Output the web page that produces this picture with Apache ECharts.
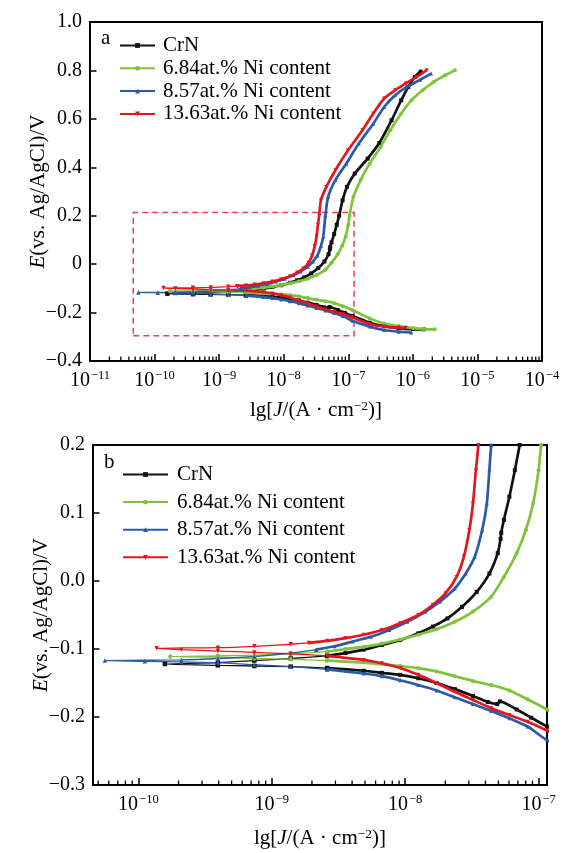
<!DOCTYPE html>
<html>
<head>
<meta charset="utf-8">
<script src="https://cdn.jsdelivr.net/npm/echarts@6/dist/echarts.min.js"></script>
<style>html,body{margin:0;padding:0;background:#fff;}#c{width:570px;height:853px;}</style>
</head>
<body>
<div id="c"></div>
<script>
// ---- Data (lg J in log10(A/cm^2), E in V vs Ag/AgCl) ----
const seriesNames = ['CrN', '6.84at.% Ni content', '8.57at.% Ni content', '13.63at.% Ni content'];

const crnLg = [-5.83,-5.997,-6.221,-6.445,-6.669,-6.937,-7.055,-7.164,-7.29,-7.31,-7.38,-7.492,-7.628,-7.765,-7.902,-8.038,-8.175,-8.311,-8.585,-8.858,-9.131,-9.404,-9.801,
  -9.404,-9.131,-8.858,-8.585,-8.448,-8.311,-8.175,-8.038,-7.902,-7.792,-7.683,-7.574,-7.464,-7.369,-7.306,-7.285,-7.280,-7.260,-7.219,-7.178,-7.142,
  -7.088,-7.02,-6.90,-6.70,-6.52,-6.33,-6.18,-6.07,-5.97,-5.88];
const crnE = [-0.269,-0.268,-0.264,-0.256,-0.242,-0.214,-0.201,-0.189,-0.177,-0.181,-0.178,-0.169,-0.159,-0.150,-0.143,-0.138,-0.135,-0.132,-0.128,-0.126,-0.125,-0.124,-0.122,
  -0.120,-0.117,-0.114,-0.110,-0.106,-0.101,-0.094,-0.087,-0.077,-0.067,-0.055,-0.038,-0.016,0.011,0.041,0.062,0.071,0.090,0.124,0.163,0.200,
  0.264,0.319,0.374,0.436,0.500,0.594,0.677,0.732,0.773,0.795];

const ni684Lg = [-5.661,-5.829,-5.997,-6.221,-6.445,-6.669,-6.937,-7.082,-7.219,-7.355,-7.492,-7.628,-7.765,-7.902,-8.038,-8.311,-8.585,-8.858,-9.131,-9.404,-9.760,
  -9.404,-9.131,-8.858,-8.585,-8.448,-8.311,-8.175,-8.038,-7.902,-7.765,-7.628,-7.492,-7.355,-7.260,-7.164,-7.096,-7.041,-7.000,-6.981,
  -6.92,-6.81,-6.67,-6.50,-6.35,-6.18,-6.02,-5.85,-5.68,-5.50,-5.35];
const ni684E = [-0.269,-0.268,-0.264,-0.256,-0.245,-0.224,-0.189,-0.174,-0.161,-0.153,-0.147,-0.140,-0.133,-0.128,-0.125,-0.120,-0.117,-0.115,-0.114,-0.112,-0.111,
  -0.110,-0.109,-0.107,-0.104,-0.100,-0.097,-0.092,-0.086,-0.079,-0.071,-0.060,-0.045,-0.023,0.006,0.041,0.075,0.114,0.163,0.200,
  0.278,0.347,0.415,0.484,0.553,0.622,0.677,0.718,0.752,0.780,0.801];

const ni857Lg = [-6.025,-6.221,-6.445,-6.669,-6.937,-7.082,-7.219,-7.355,-7.492,-7.628,-7.765,-7.902,-8.038,-8.175,-8.311,-8.585,-8.858,-9.131,-9.404,-9.678,-9.951,-10.251,
  -9.678,-9.404,-9.131,-8.858,-8.667,-8.530,-8.393,-8.257,-8.120,-7.984,-7.847,-7.738,-7.628,-7.546,-7.478,-7.423,-7.388,-7.369,-7.355,
  -7.312,-7.200,-7.032,-6.837,-6.613,-6.445,-6.277,-6.109,-5.885,-5.717];
const ni857E = [-0.282,-0.279,-0.272,-0.258,-0.234,-0.214,-0.202,-0.191,-0.181,-0.171,-0.161,-0.153,-0.146,-0.140,-0.136,-0.130,-0.126,-0.123,-0.120,-0.119,-0.118,-0.117,
  -0.116,-0.114,-0.111,-0.106,-0.101,-0.096,-0.089,-0.082,-0.072,-0.060,-0.045,-0.030,-0.011,0.011,0.036,0.075,0.114,0.163,0.200,
  0.278,0.347,0.415,0.498,0.580,0.649,0.697,0.729,0.762,0.787];

const ni1363Lg = [-6.11,-6.221,-6.445,-6.669,-6.937,-7.082,-7.219,-7.355,-7.492,-7.628,-7.765,-7.902,-8.038,-8.175,-8.311,-8.585,-8.858,-9.131,-9.404,-9.678,-9.863,
  -9.404,-9.131,-8.858,-8.721,-8.585,-8.448,-8.311,-8.175,-8.038,-7.902,-7.792,-7.697,-7.615,-7.560,-7.519,-7.492,-7.470,-7.451,
  -7.424,-7.340,-7.200,-7.004,-6.781,-6.613,-6.445,-6.277,-6.109,-5.941,-5.785];
const ni1363E = [-0.263,-0.262,-0.258,-0.247,-0.220,-0.207,-0.197,-0.187,-0.175,-0.163,-0.150,-0.138,-0.128,-0.121,-0.116,-0.110,-0.107,-0.105,-0.103,-0.101,-0.099,
  -0.098,-0.096,-0.093,-0.091,-0.088,-0.084,-0.079,-0.072,-0.062,-0.050,-0.035,-0.018,0.006,0.036,0.075,0.114,0.163,0.200,
  0.264,0.319,0.388,0.470,0.553,0.622,0.684,0.718,0.746,0.773,0.801];

// zoom box (region of panel b shown in panel a)
const boxLg = [-10.33, -6.91];
const boxE = [-0.296, 0.213];

// axes ranges
const topXLg = [-11, -4];
const topY = [-0.4, 1.0];
const botXLg = [-10.34, -6.937];
const botY = [-0.3, 0.2];

const colors = ['#111111', '#80c23a', '#2b5aa6', '#e3161f'];
const symbols = ['rect', 'circle', 'triangle', 'path://M0,0 L10,0 L5,9 Z'];
const thinBelowLg = -8.8; // low-current part drawn with a thin line

const FF = '"Liberation Serif","Times New Roman",serif';

function toData(lg, e) { return lg.map((l, i) => [Math.pow(10, l), e[i]]); }
const curveLg = [crnLg, ni684Lg, ni857Lg, ni1363Lg];
const curveE = [crnE, ni684E, ni857E, ni1363E];

function splitCurve(lg, e) {
  const d = toData(lg, e);
  let first = -1, last = -1;
  lg.forEach((l, i) => { if (l < thinBelowLg) { if (first < 0) first = i; last = i; } });
  const thin = d.slice(Math.max(0, first - 1), last + 2);
  const thick = d.slice(0, first).concat(['-'], d.slice(last + 1));
  return { thin, thick };
}

function minorTicks(minLg, maxLg, y) {
  const out = [];
  for (let k = Math.floor(minLg); k < Math.ceil(maxLg); k++) {
    for (let m = 2; m <= 9; m++) {
      const l = k + Math.log10(m);
      if (l > minLg && l < maxLg) out.push([Math.pow(10, l), y]);
    }
  }
  return out;
}

const richTick = {
  b: { fontSize: 20, fontFamily: FF, color: '#000', lineHeight: 22, verticalAlign: 'bottom' },
  s: { fontSize: 12.5, fontFamily: FF, color: '#000', lineHeight: 22, verticalAlign: 'top', padding: [0, 0, 0, 1] }
};
function expLabel(v) {
  const ex = Math.log10(v);
  const r = Math.round(ex);
  if (Math.abs(ex - r) > 1e-6) return '';
  return '{b|10}{s|' + (r < 0 ? '\u2212' + (-r) : r) + '}';
}
function yLabel(v, zeroShort) {
  if (Math.abs(v) < 1e-9) return zeroShort ? '0' : '0.0';
  return v.toFixed(1).replace('-', '\u2212');
}
const richName = {
  n: { fontSize: 21, fontFamily: FF, color: '#000' },
  i: { fontSize: 21, fontFamily: FF, fontStyle: 'italic', color: '#000' },
  s: { fontSize: 13.5, fontFamily: FF, color: '#000', verticalAlign: 'top', lineHeight: 23 }
};
const xName = '{n|lg[}{i|J}{n|/(A \u00b7 cm}{s|\u22122}{n|)]}';
const yName = '{i|E}{n|(vs. Ag/AgCl)/V}';

function xAxis(gi, lgRange, nameGap) {
  return {
    type: 'log', logBase: 10, gridIndex: gi,
    min: Math.pow(10, lgRange[0]), max: Math.pow(10, lgRange[1]),
    splitNumber: gi === 0 ? 7 : 4,
    axisLine: { onZero: false, lineStyle: { color: '#000', width: 2 } },
    axisTick: { inside: true, length: 7, lineStyle: { color: '#000', width: 1.5 } },
    splitLine: { show: false },
    axisLabel: { formatter: expLabel, rich: richTick, margin: 8, showMinLabel: true, showMaxLabel: true },
    name: xName, nameLocation: 'middle', nameGap: nameGap, nameMoveOverlap: false,
    nameTextStyle: { rich: richName }
  };
}
function yAxis(gi, range, interval, zeroShort) {
  return {
    type: 'value', gridIndex: gi, min: range[0], max: range[1], interval: interval,
    axisLine: { onZero: false, lineStyle: { color: '#000', width: 2 } },
    axisTick: { inside: true, length: 6.5, lineStyle: { color: '#000', width: 1.5 } },
    splitLine: { show: false },
    axisLabel: { formatter: v => yLabel(v, zeroShort), fontSize: 20, fontFamily: FF, color: '#000', margin: 8 },
    name: yName, nameLocation: 'middle', nameRotate: 90, nameGap: 41, nameMoveOverlap: false,
    nameTextStyle: { rich: richName }
  };
}

const series = [];
for (let g = 0; g < 2; g++) {
  for (let k = 0; k < 4; k++) {
    const parts = splitCurve(curveLg[k], curveE[k]);
    const common = {
      type: 'line', name: seriesNames[k], xAxisIndex: g, yAxisIndex: g,
      color: colors[k], symbol: symbols[k], showSymbol: true,
      itemStyle: { color: colors[k] }, smooth: 0.25, clip: true, animation: false
    };
    const thick = Object.assign({}, common, {
      data: parts.thick, symbolSize: 4, lineStyle: { width: 2.7, color: colors[k] }, z: 4 + k, connectNulls: false
    });
    const thin = Object.assign({}, common, {
      data: parts.thin, symbolSize: 4.5, lineStyle: { width: 1.3, color: colors[k] }, z: 3
    });
    if (g === 0 && k === 0) {
      thick.markArea = {
        silent: true,
        itemStyle: { color: 'rgba(0,0,0,0)', borderColor: '#e8424a', borderWidth: 1.5, borderType: [6, 4] },
        data: [[{ coord: [Math.pow(10, boxLg[0]), boxE[0]] }, { coord: [Math.pow(10, boxLg[1]), boxE[1]] }]]
      };
    }
    series.push(thick, thin);
  }
}
function minorSeries(gi, lgRange, yMin) {
  return {
    type: 'custom', coordinateSystem: 'cartesian2d', xAxisIndex: gi, yAxisIndex: gi,
    silent: true, animation: false, clip: false, z: 20,
    encode: { x: 0, y: 1 },
    data: minorTicks(lgRange[0], lgRange[1], yMin),
    renderItem: (params, api) => {
      const p = api.coord([api.value(0), api.value(1)]);
      return { type: 'line', shape: { x1: p[0], y1: p[1], x2: p[0], y2: p[1] - 4.5 }, style: { stroke: '#000', lineWidth: 1.3 } };
    }
  };
}
series.push(minorSeries(0, topXLg, topY[0]));
series.push(minorSeries(1, botXLg, botY[0]));

const legendBase = {
  orient: 'vertical', data: seriesNames,
  textStyle: { fontSize: 21, fontFamily: FF, color: '#000' },
  itemHeight: 6, selectedMode: false
};

const option = {
  backgroundColor: '#fff',
  animation: false,
  title: [
    { text: 'a', left: 96, top: 23, textStyle: { fontSize: 21, fontWeight: 'normal', fontFamily: FF, color: '#000' } },
    { text: 'b', left: 99, top: 447, textStyle: { fontSize: 21, fontWeight: 'normal', fontFamily: FF, color: '#000' } }
  ],
  legend: [
    Object.assign({}, legendBase, { left: 114, top: 30, itemWidth: 35, itemGap: 1.8,
      textStyle: Object.assign({}, legendBase.textStyle, { padding: [0, 0, 0, 3] }) }),
    Object.assign({}, legendBase, { left: 117, top: 459, itemWidth: 45, itemGap: 6.6,
      textStyle: Object.assign({}, legendBase.textStyle, { padding: [0, 0, 0, 4] }) })
  ],
  grid: [
    { left: 90, top: 22, width: 452, height: 339, show: true, borderColor: '#000', borderWidth: 2, backgroundColor: 'transparent' },
    { left: 93, top: 445, width: 454, height: 340, show: true, borderColor: '#000', borderWidth: 2, backgroundColor: 'transparent' }
  ],
  xAxis: [xAxis(0, topXLg, 38), xAxis(1, botXLg, 42)],
  yAxis: [yAxis(0, topY, 0.2, true), yAxis(1, botY, 0.1, false)],
  series: series
};

const chart = echarts.init(document.getElementById('c'), null, { renderer: 'canvas' });
chart.setOption(option);
</script>
</body>
</html>
